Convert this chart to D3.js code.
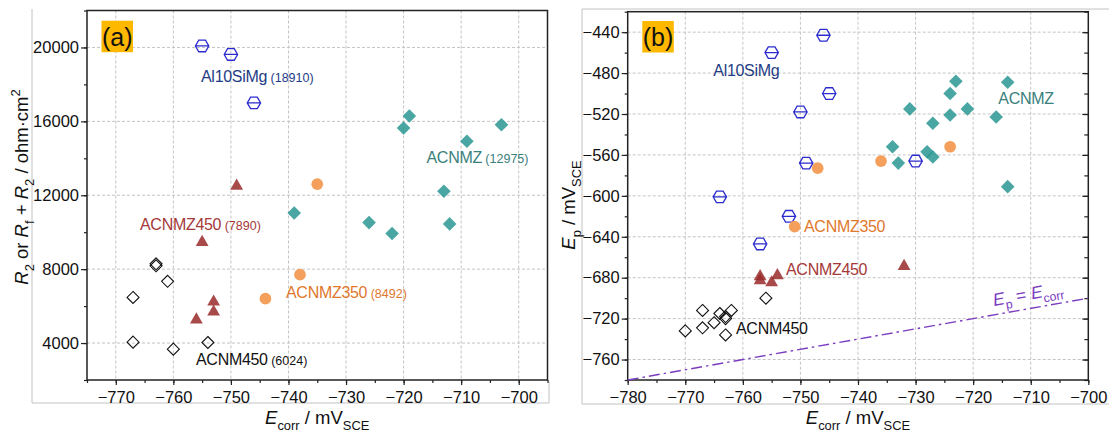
<!DOCTYPE html>
<html>
<head>
<meta charset="utf-8">
<script src="https://cdn.jsdelivr.net/npm/d3@7"></script>
<style>
  body { margin: 0; background: #fff; }
  svg { display: block; font-family: "Liberation Sans", Arial, sans-serif; }
  text { white-space: pre; }
</style>
</head>
<body>
<svg id="chart" width="1109" height="432"></svg>
<script>
// ---------- Panel (a): R2 (or Rf + R2) vs Ecorr ----------
const alEcorrA   = [-755, -750, -746];
const alResA     = [20080, 19620, 17000];
const znEcorrA   = [-719, -720, -703, -709, -713, -739, -726, -722, -712];
const znResA     = [16290, 15640, 15820, 14920, 12220, 11040, 10520, 9930, 10450];
const z350EcorrA = [-735, -738, -744];
const z350ResA   = [12600, 7700, 6400];
const z450EcorrA = [-749, -755, -753, -753, -756];
const z450ResA   = [12600, 9560, 6330, 5790, 5360];
const n450EcorrA = [-763, -763, -761, -767, -767, -760, -754];
const n450ResA   = [8290, 8180, 7340, 6470, 4050, 3670, 4030];

// ---------- Panel (b): Ep vs Ecorr ----------
const alEcorrB   = [-755, -746, -745, -750, -749, -764, -752, -757, -730];
const alEpB      = [-460, -443, -500, -518, -568, -601, -620, -647, -566];
const znEcorrB   = [-723, -714, -724, -731, -721, -724, -716, -727, -734, -728, -727, -733, -714];
const znEpB      = [-488, -489, -500, -515, -515, -521, -523, -529, -552, -557, -562, -568, -591];
const z350EcorrB = [-747, -736, -724, -751];
const z350EpB    = [-573, -566, -552, -630];
const z450EcorrB = [-757, -757, -755, -754, -732];
const z450EpB    = [-677, -681, -683, -676, -667];
const n450EcorrB = [-756, -767, -762, -764, -763, -763, -765, -767, -770, -763];
const n450EpB    = [-700, -712, -712, -715, -718, -720, -724, -729, -732, -736];

// Alloy names and mean resistances shown in panel (a)
const alloyNames = ["Al10SiMg", "ACNMZ", "ACNMZ350", "ACNMZ450", "ACNM450"];
const meanRes    = [18910, 12975, 8492, 7890, 6024];

// Axis ticks
const xTicksA = [-770, -760, -750, -740, -730, -720, -710, -700];
const yTicksA = [4000, 8000, 12000, 16000, 20000];
const xTicksB = [-780, -770, -760, -750, -740, -730, -720, -710, -700];
const yTicksB = [-760, -720, -680, -640, -600, -560, -520, -480, -440];

// Ep = Ecorr reference line end points
const refLine = [-780, -700];

const svg = d3.select("#chart");
const fmt = d3.format("d");

const C = {
  alStroke: "#2b2bcf", alText: "#1e3c84",
  zn: "#2a9692", znText: "#3a807c",
  z350: "#f4a05c", z350Text: "#e0782c",
  z450: "#992a2a", z450Text: "#a53838",
  n450: "#111111",
  grid: "#c4c4c4", purple: "#7c3cbf"
};

// ---- marker shapes ----
const hexPath = (() => {
  const r = 6.7;
  const pts = d3.range(6).map(i => [r * Math.cos(i * Math.PI / 3), r * Math.sin(i * Math.PI / 3)]);
  return "M" + pts.map(p => p[0].toFixed(2) + "," + p[1].toFixed(2)).join("L") + "Z M" + (-r) + ",0H" + r;
})();
const diamondPath = r => `M0,${-r}L${r},0L0,${r}L${-r},0Z`;
const triPath = "M0,-5.6L6.4,5.6L-6.4,5.6Z";

// ---- rich text helper (italic, sub/superscripts) ----
function rich(sel, parts, size) {
  let cur = 0;
  parts.forEach(p => {
    const target = p.sub ? size * 0.3 : p.sup ? -size * 0.42 : 0;
    const ts = sel.append("tspan").text(p.t).attr("dy", target - cur);
    cur = target;
    if (p.sub || p.sup) ts.attr("font-size", size * 0.7);
    if (p.it) ts.attr("font-style", "italic");
  });
}

function drawPanel(cfg) {
  const { x, y, xTicks, yTicks, xMinor, yMinor, rightTicks } = cfg;
  const g = svg.append("g");
  const [x0, x1] = x.range();
  const [y0, y1] = y.range();

  // outer gray borders
  cfg.borders.forEach(b => g.append("line")
    .attr("x1", b[0]).attr("y1", b[1]).attr("x2", b[2]).attr("y2", b[3])
    .attr("stroke", "#c2c2c2").attr("stroke-width", 1));

  // grid
  g.append("g").selectAll("line").data(xTicks.filter(v => x(v) > x0 + 1 && x(v) < x1 - 1)).join("line")
    .attr("x1", d => x(d)).attr("x2", d => x(d)).attr("y1", y1).attr("y2", y0)
    .attr("stroke", C.grid).attr("stroke-dasharray", "3,2").attr("stroke-width", 1);
  g.append("g").selectAll("line").data(yTicks.filter(v => y(v) < y0 - 1 && y(v) > y1 + 1)).join("line")
    .attr("x1", x0).attr("x2", x1).attr("y1", d => y(d)).attr("y2", d => y(d))
    .attr("stroke", C.grid).attr("stroke-dasharray", "3,2").attr("stroke-width", 1);

  // axes
  const styleAxis = a => {
    a.select(".domain").remove();
    a.selectAll("line").attr("stroke", "#222").attr("stroke-width", 1.2);
    a.selectAll("text").attr("font-size", 16.5).attr("fill", "#111")
      .attr("font-family", "'Liberation Sans', Arial, sans-serif");
  };
  g.append("g").attr("transform", `translate(0,${y0})`)
    .call(d3.axisBottom(x).tickValues(xMinor).tickSize(3).tickFormat("")).call(styleAxis);
  g.append("g").attr("transform", `translate(0,${y0})`)
    .call(d3.axisBottom(x).tickValues(xTicks).tickSize(5).tickPadding(6).tickFormat(fmt)).call(styleAxis);
  g.append("g").attr("transform", `translate(${x0},0)`)
    .call(d3.axisLeft(y).tickValues(yMinor).tickSize(3).tickFormat("")).call(styleAxis);
  g.append("g").attr("transform", `translate(${x0},0)`)
    .call(d3.axisLeft(y).tickValues(yTicks).tickSize(6).tickPadding(2).tickFormat(fmt)).call(styleAxis);
  if (rightTicks) {
    g.append("g").attr("transform", `translate(${x1},0)`)
      .call(d3.axisLeft(y).tickValues(yMinor).tickSize(4).tickFormat("")).call(styleAxis);
    g.append("g").attr("transform", `translate(${x1},0)`)
      .call(d3.axisLeft(y).tickValues(yTicks).tickSize(6).tickFormat("")).call(styleAxis);
  }

  // frame
  g.append("rect").attr("x", x0).attr("y", y1).attr("width", x1 - x0).attr("height", y0 - y1)
    .attr("fill", "none").attr("stroke", "#222").attr("stroke-width", 1.5);

  // panel tag
  const tg = g.append("g").attr("transform", `translate(${cfg.tag.x},${cfg.tag.y})`);
  tg.append("rect").attr("width", 31.5).attr("height", 31.5).attr("fill", "#ffb800");
  tg.append("text").attr("x", 15.7).attr("y", 25).attr("text-anchor", "middle")
    .attr("font-size", 25).attr("fill", "#111").text(cfg.tag.text);
  return g;
}

function plotSeries(g, x, y, xs, ys, kind) {
  const pts = xs.map((v, i) => [x(v), y(ys[i])]);
  const sel = g.append("g").selectAll("path").data(pts).join("path")
    .attr("transform", d => `translate(${d[0]},${d[1]})`);
  if (kind === "hex") sel.attr("d", hexPath).attr("fill", "none").attr("stroke", C.alStroke).attr("stroke-width", 1.3);
  if (kind === "zn") sel.attr("d", diamondPath(6.8)).attr("fill", C.zn).attr("fill-opacity", 0.85);
  if (kind === "z350") sel.attr("d", d3.symbol(d3.symbolCircle, 108)()).attr("fill", C.z350);
  if (kind === "z450") sel.attr("d", triPath).attr("fill", C.z450).attr("fill-opacity", 0.85);
  if (kind === "n450") sel.attr("d", diamondPath(6)).attr("fill", "none").attr("stroke", C.n450).attr("stroke-width", 1.1);
}

function label(g, xPos, yPos, name, value, color) {
  const t = g.append("text").attr("x", xPos).attr("y", yPos).attr("fill", color)
    .attr("font-size", 16).attr("letter-spacing", -0.3);
  t.append("tspan").text(name);
  if (value != null) t.append("tspan").attr("font-size", 12.5).attr("letter-spacing", 0).text(" (" + value + ")");
}

// ===== Panel (a) =====
const xA = d3.scaleLinear().domain([-775, -695]).range([87, 547.5]);
const yA = d3.scaleLinear().domain([2000, 22000]).range([380, 10.5]);
const gA = drawPanel({
  x: xA, y: yA, xTicks: xTicksA, yTicks: yTicksA,
  xMinor: d3.range(-775, -694, 5), yMinor: d3.range(2000, 22001, 2000),
  rightTicks: false,
  borders: [[32, 9, 32, 403], [32, 403, 549, 403], [549, 381, 549, 403]],
  tag: { x: 101.5, y: 20.7, text: "(a)" }
});
plotSeries(gA, xA, yA, alEcorrA, alResA, "hex");
plotSeries(gA, xA, yA, n450EcorrA, n450ResA, "n450");
plotSeries(gA, xA, yA, z450EcorrA, z450ResA, "z450");
plotSeries(gA, xA, yA, z350EcorrA, z350ResA, "z350");
plotSeries(gA, xA, yA, znEcorrA, znResA, "zn");

label(gA, 201, 81.5, alloyNames[0], meanRes[0], C.alText);
label(gA, 426.5, 163.3, alloyNames[1], meanRes[1], C.znText);
label(gA, 286, 297.7, alloyNames[2], meanRes[2], C.z350Text);
label(gA, 140, 230, alloyNames[3], meanRes[3], C.z450Text);
label(gA, 196, 365, alloyNames[4], meanRes[4], "#111");

// axis titles (a)
const xtA = gA.append("text").attr("x", (87 + 547.5) / 2).attr("y", 424).attr("text-anchor", "middle")
  .attr("font-size", 18.5).attr("fill", "#111");
rich(xtA, [{ t: "E", it: true }, { t: "corr", sub: true }, { t: " / mV" }, { t: "SCE", sub: true }], 18.5);
const ytA = gA.append("text").attr("transform", "translate(28,187) rotate(-90)").attr("text-anchor", "middle")
  .attr("font-size", 18.5).attr("fill", "#111");
rich(ytA, [{ t: "R", it: true }, { t: "2", sub: true }, { t: " or " }, { t: "R", it: true }, { t: "f", sub: true },
  { t: " + " }, { t: "R", it: true }, { t: "2", sub: true }, { t: " / ohm·cm" }, { t: "2", sup: true }], 18.5);

// ===== Panel (b) =====
const xB = d3.scaleLinear().domain([-780, -700]).range([627.7, 1088.3]);
const yB = d3.scaleLinear().domain([-780, -420]).range([380, 11.7]);
const gB = drawPanel({
  x: xB, y: yB, xTicks: xTicksB, yTicks: yTicksB,
  xMinor: d3.range(-780, -699, 5), yMinor: d3.range(-780, -419, 20),
  rightTicks: true,
  borders: [[582, 9, 1109, 9], [582, 9, 582, 404], [582, 404, 1109, 404]],
  tag: { x: 642.3, y: 21, text: "(b)" }
});

// Ep = Ecorr line
gB.append("line")
  .attr("x1", xB(refLine[0])).attr("y1", yB(refLine[0]))
  .attr("x2", xB(refLine[1])).attr("y2", yB(refLine[1]))
  .attr("stroke", C.purple).attr("stroke-width", 1.4).attr("stroke-dasharray", "11,4,2.5,4");
const ang = Math.atan2(yB(refLine[1]) - yB(refLine[0]), xB(refLine[1]) - xB(refLine[0])) * 180 / Math.PI;
const refT = gB.append("text").attr("transform", `translate(994,306) rotate(${ang})`)
  .attr("font-size", 17.5).attr("fill", C.purple);
rich(refT, [{ t: "E", it: true }, { t: "p", sub: true }, { t: " = " }, { t: "E", it: true }, { t: "corr", sub: true }], 17.5);

plotSeries(gB, xB, yB, alEcorrB, alEpB, "hex");
plotSeries(gB, xB, yB, n450EcorrB, n450EpB, "n450");
plotSeries(gB, xB, yB, z450EcorrB, z450EpB, "z450");
plotSeries(gB, xB, yB, znEcorrB, znEpB, "zn");
plotSeries(gB, xB, yB, z350EcorrB, z350EpB, "z350");

label(gB, 713.3, 76, alloyNames[0], null, C.alText);
label(gB, 998.3, 104.3, alloyNames[1], null, C.znText);
label(gB, 804, 232, alloyNames[2], null, C.z350Text);
label(gB, 786, 275, alloyNames[3], null, C.z450Text);
label(gB, 736, 334, alloyNames[4], null, "#111");

// axis titles (b)
const xtB = gB.append("text").attr("x", (627.7 + 1088.3) / 2).attr("y", 424).attr("text-anchor", "middle")
  .attr("font-size", 18.5).attr("fill", "#111");
rich(xtB, [{ t: "E", it: true }, { t: "corr", sub: true }, { t: " / mV" }, { t: "SCE", sub: true }], 18.5);
const ytB = gB.append("text").attr("transform", "translate(575,205) rotate(-90)").attr("text-anchor", "middle")
  .attr("font-size", 18.5).attr("fill", "#111");
rich(ytB, [{ t: "E", it: true }, { t: "p", sub: true }, { t: " / mV" }, { t: "SCE", sub: true }], 18.5);
</script>
</body>
</html>
